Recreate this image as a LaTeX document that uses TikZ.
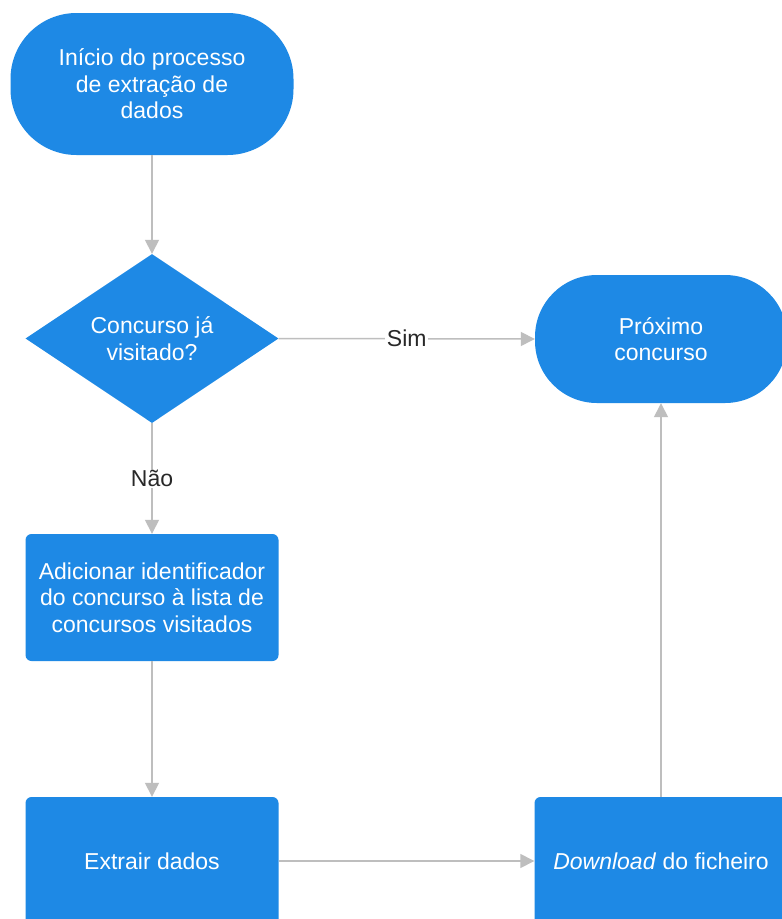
\documentclass[tikz,border=0pt]{standalone}
\usepackage{fontspec}
\setmainfont{Liberation Sans}
\usetikzlibrary{shapes.geometric,arrows.meta}
\definecolor{boxblue}{RGB}{30,137,229}
\definecolor{linegray}{RGB}{190,190,190}
\definecolor{labeltext}{RGB}{40,40,40}
\tikzset{
  base/.style={fill=boxblue, draw=none, text=white, align=center, inner sep=0pt,
    font=\fontsize{23}{26.5}\selectfont},
  pill/.style={base, rectangle, rounded corners=66pt},
  procbox/.style={base, rectangle, rounded corners=6pt},
  decbox/.style={base, diamond, aspect=1.5},
  conn/.style={draw=linegray, line width=1.5pt, -{Triangle[width=14pt,length=14pt]}},
  lbl/.style={fill=white, text=labeltext, inner sep=1.5pt, font=\fontsize{23}{26.5}\selectfont}
}
\begin{document}
\begin{tikzpicture}[x=1pt,y=-1pt]
\useasboundingbox (0,0) rectangle (782,919);
\clip (0,0) rectangle (782,919);
\fill[white] (0,0) rectangle (782,919);
\node[pill, minimum width=283pt, minimum height=142pt] (start) at (152,84) {Início do processo\\de extração de\\dados};
\node[decbox, minimum width=253pt, minimum height=169pt] (dec) at (152,338.5) {Concurso já\\visitado?};
\node[pill, minimum width=252pt, minimum height=128pt, rounded corners=62pt] (next) at (661,339) {Próximo\\concurso};
\node[procbox, minimum width=253pt, minimum height=127pt] (add) at (152,597.5) {Adicionar identificador\\do concurso à lista de\\concursos visitados};
\node[procbox, minimum width=253pt, minimum height=128pt] (ext) at (152,861) {Extrair dados};
\node[procbox, minimum width=253pt, minimum height=128pt] (dl) at (661,861) {\textit{Download} do ficheiro};
\draw[conn] (start.south) -- (dec.north);
\draw[conn] (dec.east) -- node[lbl] {Sim} (next.west);
\draw[conn] (dec.south) -- node[lbl] {Não} (add.north);
\draw[conn] (add.south) -- (ext.north);
\draw[conn] (ext.east) -- (dl.west);
\draw[conn] (dl.north) -- (next.south);
\end{tikzpicture}
\end{document}
